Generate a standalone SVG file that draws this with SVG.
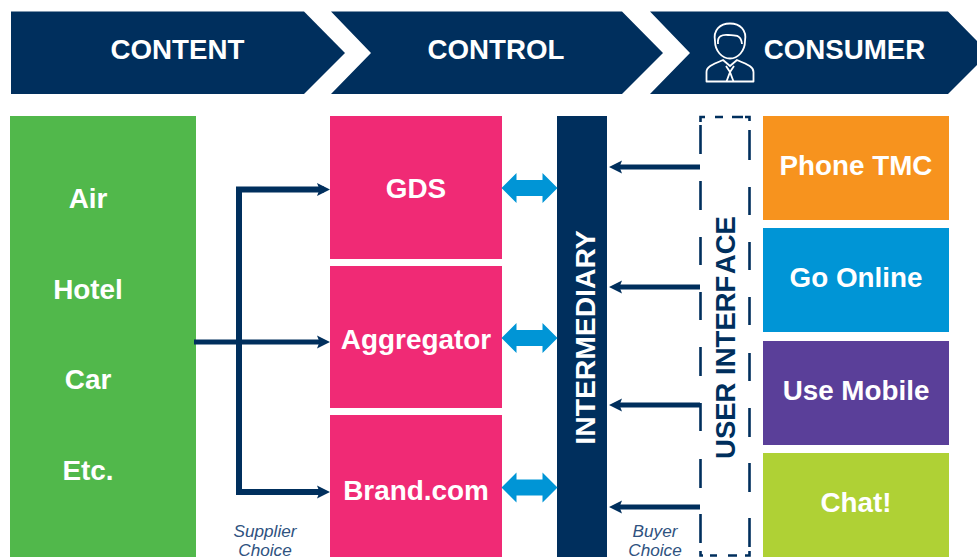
<svg xmlns="http://www.w3.org/2000/svg" width="977" height="557" viewBox="0 0 977 557">
<style>
text{font-family:"Liberation Sans",Arial,sans-serif}
.h{font-size:27.7px;font-weight:700;fill:#fff;text-anchor:middle}
.t{font-size:27.9px;font-weight:700;fill:#fff;text-anchor:middle}
.v{font-size:28.3px;font-weight:700;fill:#fff;text-anchor:middle}
.u{font-size:27.5px;font-weight:700;fill:#002f5d;text-anchor:middle}
.c{font-size:27.8px;font-weight:700;fill:#fff;text-anchor:middle}
.i{font-size:17.2px;font-style:italic;fill:#2f5280;text-anchor:middle}
.navy{fill:#002f5d}
.conn{fill:none;stroke:#002f5d;stroke-width:5}
.bracket{fill:none;stroke:#002f5d;stroke-width:6}
.dash{fill:none;stroke:#002f5d;stroke-width:2.6}
.dbl{fill:#0095d6}
.hair{fill:none;stroke:#fff;stroke-width:1.8;stroke-linejoin:round}
</style>
<defs>
<marker id="a" markerUnits="userSpaceOnUse" markerWidth="16" markerHeight="16" refX="7" refY="8" orient="auto-start-reverse"><path d="M0 1.500L13 8L0 14.500L2.500 8Z" fill="#002f5d"/></marker>
<path id="d" d="M0 0L15 -15V-8H41V-15L56 0L41 15V8H15V15Z"/>
</defs>
<g id="chevron-content"><path class="navy" d="M11 11.500H304L345 53L304 94H11Z"/><text class="h" x="177.500" y="59">CONTENT</text></g>
<g id="chevron-control"><path class="navy" d="M331 11.500H622L663 53L622 94H331L371 53Z"/><text class="h" x="496" y="59">CONTROL</text></g>
<g id="chevron-consumer"><path class="navy" d="M650 11.500H948L977 41V65L948 94H650L690 53Z"/>
<g class="hair"><path d="M715 41C713 30 720 23.500 730 23.500C740 23.500 747 30 745 41C745 51 738 58.500 730 58.500C722 58.500 715 51 715 41Z"/><path d="M718 44C717 36 722 34.500 728 35C735 35.500 741 34 742 44"/><path d="M706.500 81.500V72C706.500 67 711 65 723 60L730 66L737 60C749 65 753.500 67 753.500 72V81.500Z"/><path d="M726 66L730 72L734 66M726.500 81.500L730 72L733.500 81.500"/></g>
<text class="h" x="844.500" y="59">CONSUMER</text></g>
<g id="content-block"><rect x="10" y="116" width="186" height="441" fill="#51b84b"/>
<text class="t" x="88" y="208">Air</text><text class="t" x="88" y="299">Hotel</text><text class="t" x="88" y="389">Car</text><text class="t" x="88" y="480">Etc.</text></g>
<g id="gds"><rect x="330" y="116" width="172" height="143" fill="#f02a75"/><text class="t" x="416" y="198">GDS</text></g>
<g id="aggregator"><rect x="330" y="266" width="172" height="142" fill="#f02a75"/><text class="t" x="416" y="349">Aggregator</text></g>
<g id="brand"><rect x="330" y="415" width="172" height="142" fill="#f02a75"/><text class="t" x="416" y="500">Brand.com</text></g>
<g id="intermediary"><rect x="557" y="116" width="50" height="441" class="navy"/><text class="v" transform="translate(595 337.500) rotate(-90)">INTERMEDIARY</text></g>
<g id="user-interface">
<path class="dash" d="M700.500 125V154M700.500 181V210M700.500 237V265M700.500 292V320M700.500 347V376M700.500 403V431M700.500 459V488M700.500 514V543"/>
<path class="dash" d="M749.500 130V160M749.500 187V215M749.500 242V270M749.500 297V325M749.500 353V381M749.500 408V437M749.500 463V492M749.500 518V547"/>
<path class="dash" d="M700.500 122V117H705M715 117H723M732 117H743M745 117H749.500V121"/>
<path class="dash" d="M700.500 551V555.500H703M710 555.500H717M728 555.500H737M745 555.500H749.500V551"/>
<text class="u" transform="translate(735 337.500) rotate(-90)">USER INTERF<tspan dx="3">ACE</tspan></text></g>
<g id="phone"><rect x="763" y="116" width="186" height="104" fill="#f7931e"/><text class="c" x="856" y="175">Phone TMC</text></g>
<g id="online"><rect x="763" y="228" width="186" height="104" fill="#0095d6"/><text class="c" x="856" y="287">Go Online</text></g>
<g id="mobile"><rect x="763" y="341" width="186" height="104" fill="#5a3f99"/><text class="c" x="856" y="400">Use Mobile</text></g>
<g id="chat"><rect x="763" y="453" width="186" height="104" fill="#afd135"/><text class="c" x="856" y="512">Chat!</text></g>
<g id="connectors">
<path class="conn" d="M194 342H324" marker-end="url(#a)"/>
<path class="bracket" d="M324 189.500H239V492H324" marker-start="url(#a)" marker-end="url(#a)"/>
<path class="conn" d="M700 167H615" marker-end="url(#a)"/>
<path class="conn" d="M700 287H615" marker-end="url(#a)"/>
<path class="conn" d="M700 405H615" marker-end="url(#a)"/>
<path class="conn" d="M700 507H615" marker-end="url(#a)"/>
<use href="#d" class="dbl" x="501.500" y="188"/>
<use href="#d" class="dbl" x="501.500" y="338"/>
<use href="#d" class="dbl" x="501.500" y="487.500"/>
</g>
<g id="labels"><text class="i" x="265" y="537">Supplier</text><text class="i" x="265" y="555.500">Choice</text><text class="i" x="655" y="537">Buyer</text><text class="i" x="655" y="555.500">Choice</text></g>
</svg>
